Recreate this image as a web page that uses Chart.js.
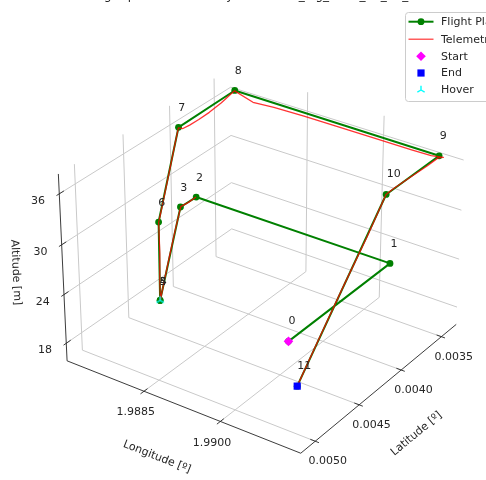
<!DOCTYPE html>
<html>
<head>
<meta charset="utf-8">
<script src="https://cdn.jsdelivr.net/npm/chart.js@4.4.1/dist/chart.umd.min.js"></script>
<style>
  html, body { margin: 0; padding: 0; background: #ffffff; }
  canvas { display: block; }
</style>
</head>
<body>
<canvas id="c" width="486" height="480"></canvas>
<script>
// ---- Flight plan waypoints ----
const wpLabels = ['0', '1', '2', '3', '4', '5', '6', '7', '8', '9', '10', '11'];
const wpLon = [1.99108, 1.99108, 1.98724, 1.98723, 1.98724, 1.98724, 1.98724, 1.98724, 1.98724, 1.99127, 1.99127, 1.99127];
const wpLat = [0.005042, 0.003889, 0.003889, 0.004061, 0.004313, 0.004313, 0.004309, 0.004071, 0.003436, 0.003452, 0.004083, 0.005056];
const wpAlt = [27.0, 27.0, 27.0, 27.0, 17.2, 17.2, 27.0, 36.8, 37.0, 37.0, 37.0, 22.3];

// ---- Logged telemetry track ----
const telLon = [1.98724, 1.987236, 1.987231, 1.987236, 1.987241, 1.987245, 1.987242, 1.987239, 1.987245, 1.987237,
                1.987242, 1.987246, 1.987243, 1.98724, 1.987237, 1.987235, 1.987241, 1.987262, 1.987251, 1.987246,
                1.987243, 1.98724, 1.987239, 1.98724, 1.98762, 1.98805, 1.98865, 1.98935, 1.99005, 1.99075,
                1.99112, 1.99134, 1.99129, 1.99128, 1.99127, 1.991262, 1.991268, 1.991272, 1.991268, 1.991265, 1.99127];
const telLat = [0.003891, 0.003975, 0.004058, 0.004125, 0.004192, 0.004258, 0.004306, 0.004314, 0.004317, 0.004309,
                0.004312, 0.004307, 0.00431, 0.004248, 0.004172, 0.004112, 0.004073, 0.004035, 0.003955, 0.00385,
                0.00373, 0.00359, 0.00348, 0.003438, 0.00344, 0.003443, 0.003441, 0.003444, 0.003446, 0.003449,
                0.00345, 0.003446, 0.003478, 0.0036, 0.0038, 0.00399, 0.004083, 0.0043, 0.00456, 0.00481, 0.005056];
const telAlt = [27.02, 26.96, 27.03, 24.7, 22.2, 19.6, 17.45, 17.18, 17.26, 17.31,
                19.9, 23.2, 26.95, 29.4, 32.5, 35.0, 36.75, 36.45, 36.3, 36.25,
                36.3, 36.52, 36.85, 36.97, 36.3, 36.5, 36.58, 36.6, 36.63, 36.66,
                36.72, 36.92, 36.98, 36.9, 36.95, 37.0, 37.0, 33.6, 29.8, 26.0, 22.3];

// ---- Hover position ----
const hoverLon = [1.98724];
const hoverLat = [0.004313];
const hoverAlt = [17.2];

// ---- Axis ticks ----
const lonTicks = [1.9885, 1.9900];
const latTicks = [0.0035, 0.0040, 0.0045, 0.0050];
const altTicks = [18, 24, 30, 36];

// ---- 3D view (latitude axis runs reversed) ----
const lim = { lon: [1.98693, 1.99152], lat: [0.00516, 0.00331], alt: [15.8, 38.3] };
const view = { elev: 30, azim: -55, dist: 10 };
const aspect = (() => {
  const a = [4, 4, 3];
  const n = Math.hypot(a[0], a[1], a[2]);
  return a.map(v => v * 1.8294640721620434 / n);
})();
const half = aspect.map(v => v / 2);
const el = view.elev * Math.PI / 180, az = view.azim * Math.PI / 180;
const W = [Math.cos(el) * Math.cos(az), Math.cos(el) * Math.sin(az), Math.sin(el)];
const U = [-Math.sin(az), Math.cos(az), 0];
const V = [-Math.sin(el) * Math.cos(az), -Math.sin(el) * Math.sin(az), Math.cos(el)];

function proj(lon, lat, alt) {
  const n = [
    (lon - lim.lon[0]) / (lim.lon[1] - lim.lon[0]),
    (lat - lim.lat[0]) / (lim.lat[1] - lim.lat[0]),
    (alt - lim.alt[0]) / (lim.alt[1] - lim.alt[0])
  ];
  const d = n.map((t, i) => t * aspect[i] - half[i]);
  const dot = A => A[0] * d[0] + A[1] * d[1] + A[2] * d[2];
  const den = view.dist - dot(W);
  return { x: dot(U) / den, y: dot(V) / den };
}
function latAt(f) { return lim.lat[0] + f * (lim.lat[1] - lim.lat[0]); }
function lonAt(f) { return lim.lon[0] + f * (lim.lon[1] - lim.lon[0]); }

const lonMin = lim.lon[0], lonMax = lim.lon[1];
const latFront = lim.lat[0], latBack = lim.lat[1];
const altMin = lim.alt[0], altMax = lim.alt[1];

const datasets = [];
function addLine(pts, color, width, order) {
  datasets.push({
    data: pts, showLine: true, borderColor: color, borderWidth: width,
    pointRadius: 0, pointHoverRadius: 0, order: order, fill: false, clip: false
  });
}

// Grid lines on the floor, left wall and back wall
const gridColor = '#c9c9c9';
lonTicks.forEach(t => {
  addLine([proj(t, latFront, altMin), proj(t, latBack, altMin)], gridColor, 1, 100);
  addLine([proj(t, latBack, altMin), proj(t, latBack, altMax)], gridColor, 1, 100);
});
latTicks.forEach(t => {
  addLine([proj(lonMin, t, altMin), proj(lonMax, t, altMin)], gridColor, 1, 100);
  addLine([proj(lonMin, t, altMin), proj(lonMin, t, altMax)], gridColor, 1, 100);
});
altTicks.forEach(t => {
  addLine([proj(lonMin, latFront, t), proj(lonMin, latBack, t), proj(lonMax, latBack, t)], gridColor, 1, 100);
});

// Axis lines
const axisColor = '#262626';
addLine([proj(lonMin, latFront, altMin), proj(lonMax, latFront, altMin)], axisColor, 0.9, 90);
addLine([proj(lonMax, latFront, altMin), proj(lonMax, latBack, altMin)], axisColor, 0.9, 90);
addLine([proj(lonMin, latFront, altMin), proj(lonMin, latFront, altMax)], axisColor, 0.9, 90);

// Tick marks
lonTicks.forEach(t => addLine([proj(t, latAt(-0.02), altMin), proj(t, latAt(0.02), altMin)], axisColor, 0.9, 90));
latTicks.forEach(t => addLine([proj(lonAt(0.98), t, altMin), proj(lonAt(1.015), t, altMin)], axisColor, 0.9, 90));
altTicks.forEach(t => addLine([proj(lonMin, latAt(-0.015), t), proj(lonMin, latAt(0.025), t)], axisColor, 0.9, 90));

// Flight plan
const planPts = wpLon.map((v, i) => proj(v, wpLat[i], wpAlt[i]));
datasets.push({
  label: 'Flight Plan', data: planPts, showLine: true,
  borderColor: '#008000', borderWidth: 2, borderJoinStyle: 'round', borderCapStyle: 'round',
  pointRadius: 3.4, pointBackgroundColor: '#008000', pointBorderColor: '#008000', pointBorderWidth: 0,
  pointHoverRadius: 3.4, order: 30, clip: false
});

// Telemetry
const telColor = 'rgba(255,0,0,0.8)';
const telPts = telLon.map((v, i) => proj(v, telLat[i], telAlt[i]));
datasets.push({
  label: 'Telemetry', data: telPts, showLine: true,
  borderColor: telColor, borderWidth: 1.3, borderJoinStyle: 'round',
  pointRadius: 0, pointHoverRadius: 0, order: 20, clip: false
});

// Start / End markers
const last = wpLon.length - 1;
datasets.push({
  label: 'Start', data: [proj(wpLon[0], wpLat[0], wpAlt[0])],
  pointStyle: 'rectRot', pointRadius: 4.8, pointBackgroundColor: '#ff00ff', pointBorderColor: '#ff00ff',
  pointBorderWidth: 0, order: 10, clip: false
});
datasets.push({
  label: 'End', data: [proj(wpLon[last], wpLat[last], wpAlt[last])],
  pointStyle: 'rect', pointRadius: 5.1, pointBackgroundColor: '#0000ff', pointBorderColor: '#0000ff',
  pointBorderWidth: 0, order: 10, clip: false
});

// Hover marker (tri_up)
function triUp(r, color, lw) {
  const s = Math.ceil(2 * r + 2 * lw + 2);
  const c = document.createElement('canvas');
  c.width = s; c.height = s;
  const g = c.getContext('2d');
  const m = s / 2;
  g.strokeStyle = color; g.lineWidth = lw;
  g.beginPath();
  g.moveTo(m, m); g.lineTo(m, m - r);
  g.moveTo(m, m); g.lineTo(m - r * 0.866, m + r * 0.5);
  g.moveTo(m, m); g.lineTo(m + r * 0.866, m + r * 0.5);
  g.stroke();
  return c;
}
const triIcon = triUp(4.2, '#00ffff', 1.4);
datasets.push({
  label: 'Hover', data: hoverLon.map((v, i) => proj(v, hoverLat[i], hoverAlt[i])),
  pointStyle: triIcon, pointRadius: 5, order: 5, clip: false
});

const font = '"DejaVu Sans", "Liberation Sans", sans-serif';

const annotations = {
  id: 'annotations',
  afterDraw(chart) {
    const { ctx } = chart;
    const sx = chart.scales.x, sy = chart.scales.y;
    const pix = p => [sx.getPixelForValue(p.x), sy.getPixelForValue(p.y)];
    ctx.save();
    ctx.fillStyle = '#262626';
    ctx.font = '11px ' + font;

    // waypoint numbers
    ctx.textAlign = 'left';
    ctx.textBaseline = 'alphabetic';
    wpLabels.forEach((lab, i) => {
      const [px, py] = pix(proj(wpLon[i], wpLat[i], wpAlt[i] + 2.0));
      ctx.fillText(lab, px, py);
    });

    // tick labels
    ctx.textAlign = 'center';
    ctx.textBaseline = 'middle';
    lonTicks.forEach(t => {
      const [px, py] = pix(proj(t, latFront, altMin));
      ctx.fillText(t.toFixed(4), px - 8.3, py + 21.2);
    });
    latTicks.forEach(t => {
      const [px, py] = pix(proj(lonMax, t, altMin));
      ctx.fillText(t.toFixed(4), px + 12.4, py + 20.2);
    });
    altTicks.forEach(t => {
      const [px, py] = pix(proj(lonMin, latFront, t));
      ctx.fillText(String(t), px - 21.2, py + 7.2);
    });

    // axis titles, turned along each projected axis
    const axisTitle = (text, a, b, dx, dy) => {
      const [ax, ay] = pix(a), [bx, by] = pix(b);
      let ang = Math.atan2(by - ay, bx - ax);
      if (ang > Math.PI / 2) ang -= Math.PI;
      if (ang < -Math.PI / 2) ang += Math.PI;
      ctx.save();
      ctx.translate((ax + bx) / 2 + dx, (ay + by) / 2 + dy);
      ctx.rotate(ang);
      ctx.fillText(text, 0, 0);
      ctx.restore();
    };
    axisTitle('Longitude [º]', proj(lonMin, latFront, altMin), proj(lonMax, latFront, altMin), -27, 50);
    axisTitle('Latitude [º]', proj(lonMax, latFront, altMin), proj(lonMax, latBack, altMin), 38, 45);
    axisTitle('Altitude [m]', proj(lonMin, latFront, altMin), proj(lonMin, latFront, altMax), -47, 5);

    // title (runs off the top edge)
    ctx.font = '12px ' + font;
    ctx.textBaseline = 'alphabetic';
    ctx.fillText('Flight plan vs telemetry \u2014 mission_log_2024_06_12_a', 253, -1.5);

    // legend
    const lx = 405.5, ly = 12.5;
    ctx.fillStyle = 'rgba(255,255,255,0.85)';
    ctx.strokeStyle = '#cccccc';
    ctx.lineWidth = 1;
    ctx.beginPath();
    if (ctx.roundRect) ctx.roundRect(lx, ly, 130, 89, 3); else ctx.rect(lx, ly, 130, 89);
    ctx.fill(); ctx.stroke();

    const rows = [21.7, 39.2, 56.2, 73.0, 90.0];
    const hx0 = 408.5, hx1 = 433.5, hm = 421;
    // Flight Plan
    ctx.strokeStyle = '#008000'; ctx.lineWidth = 2;
    ctx.beginPath(); ctx.moveTo(hx0, rows[0]); ctx.lineTo(hx1, rows[0]); ctx.stroke();
    ctx.fillStyle = '#008000';
    ctx.beginPath(); ctx.arc(hm, rows[0], 3.4, 0, Math.PI * 2); ctx.fill();
    // Telemetry
    ctx.strokeStyle = telColor; ctx.lineWidth = 1.2;
    ctx.beginPath(); ctx.moveTo(hx0, rows[1]); ctx.lineTo(hx1, rows[1]); ctx.stroke();
    // Start
    ctx.fillStyle = '#ff00ff';
    ctx.beginPath();
    ctx.moveTo(hm, rows[2] - 4.8); ctx.lineTo(hm + 4.8, rows[2]); ctx.lineTo(hm, rows[2] + 4.8); ctx.lineTo(hm - 4.8, rows[2]);
    ctx.closePath(); ctx.fill();
    // End
    ctx.fillStyle = '#0000ff';
    ctx.fillRect(hm - 3.6, rows[3] - 3.6, 7.2, 7.2);
    // Hover
    ctx.drawImage(triIcon, hm - triIcon.width / 2, rows[4] - triIcon.height / 2);

    ctx.fillStyle = '#262626';
    ctx.font = '11px ' + font;
    ctx.textAlign = 'left';
    ctx.textBaseline = 'middle';
    ['Flight Plan', 'Telemetry', 'Start', 'End', 'Hover'].forEach((t, i) => ctx.fillText(t, 441, rows[i] + 0.5));
    ctx.restore();
  }
};

new Chart(document.getElementById('c'), {
  type: 'scatter',
  data: { datasets: datasets },
  options: {
    responsive: false,
    animation: false,
    devicePixelRatio: 1,
    events: [],
    layout: { padding: 0 },
    plugins: { legend: { display: false }, tooltip: { enabled: false }, title: { display: false } },
    scales: {
      x: { type: 'linear', display: false, min: -0.10332, max: 0.086523 },
      y: { type: 'linear', display: false, min: -0.0890625, max: 0.0984375 }
    },
    elements: { line: { tension: 0 } }
  },
  plugins: [annotations]
});
</script>
</body>
</html>
